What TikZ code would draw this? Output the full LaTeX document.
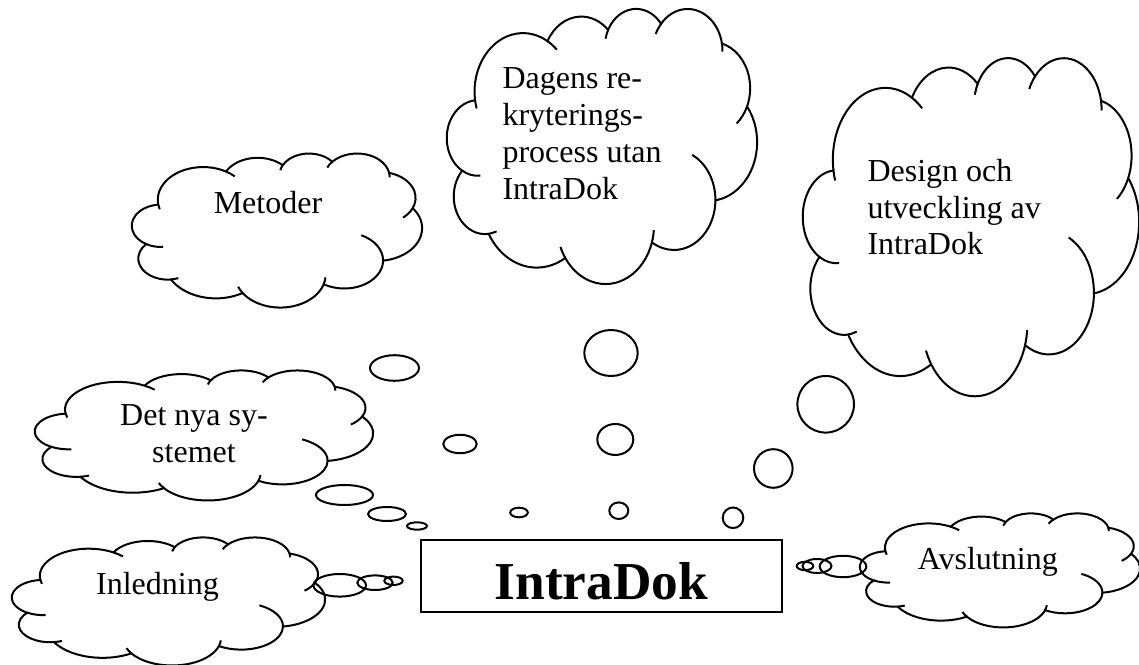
\documentclass[tikz,border=0pt]{standalone}
\usepackage{fontspec}
\setmainfont{Liberation Serif}
\usepackage{tikz}
\tikzset{
  ln/.style={line width=0.75pt, black},
  txt/.style={font=\fontsize{12}{13.8}\selectfont, inner sep=0pt},
  ttl/.style={ln, draw, font=\fontsize{20}{24}\selectfont\bfseries, minimum width=135.4pt, minimum height=27pt, text height=18pt, text depth=0pt, inner sep=0pt},
  % cloud outline in a 100 x 100 box, y down
  pics/wcloud/.style 2 args={code={
    \begin{scope}[xscale={#1/100}, yscale={#2/100}]
      \draw[ln] (9.03,33.27)
        arc[start angle=172.25, end angle=300.36, x radius=15.63, y radius=21.27]
        arc[start angle=-152.02, end angle=-45.45, x radius=12.35, y radius=16.82]
        arc[start angle=-153.49, end angle=-37.32, x radius=10.10, y radius=13.76]
        arc[start angle=-139.71, end angle=-10.22, x radius=11.24, y radius=15.27]
        arc[start angle=-74.77, end angle=23.22, x radius=12.35, y radius=16.84]
        arc[start angle=-37.53, end angle=81.86, x radius=15.68, y radius=21.34]
        arc[start angle=0.46, end angle=121.98, x radius=13.39, y radius=18.21]
        arc[start angle=16.84, end angle=146.23, x radius=15.63, y radius=21.33]
        arc[start angle=58.98, end angle=150.19, x radius=17.87, y radius=24.41]
        arc[start angle=83.31, end angle=223.11, x radius=10.09, y radius=13.70]
        arc[start angle=120.36, end angle=264.11, x radius=10.06, y radius=13.76]
        -- cycle;
      % creases
      \draw[ln]
        ([shift={(85.54:10.06 and 13.76)}]9.97,47.27) arc[start angle=85.54, end angle=120.36, x radius=10.06, y radius=13.76]
        ([shift={(68.23:10.09 and 13.70)}]12.25,68.50) arc[start angle=68.23, end angle=83.31, x radius=10.09, y radius=13.70]
        ([shift={(146.23:15.63 and 21.33)}]51.14,79.04) arc[start angle=146.23, end angle=158.47, x radius=15.63, y radius=21.33]
        ([shift={(4.73:15.63 and 21.33)}]51.14,79.04) arc[start angle=4.73, end angle=16.84, x radius=15.63, y radius=21.33]
        ([shift={(-64.02:13.39 and 18.21)}]73.19,69.77) arc[start angle=-64.02, end angle=0.46, x radius=13.39, y radius=18.21]
        ([shift={(23.22:12.35 and 16.84)}]85.45,29.15) arc[start angle=23.22, end angle=49.63, x radius=12.35, y radius=16.84]
        ([shift={(-10.22:11.24 and 15.27)}]77.63,15.61) arc[start angle=-10.22, end angle=0.82, x radius=11.24, y radius=15.27]
        ([shift={(-156.29:11.24 and 15.27)}]77.63,15.61) arc[start angle=-156.29, end angle=-139.71, x radius=11.24, y radius=15.27]
        ([shift={(-167.72:10.10 and 13.76)}]61.02,14.08) arc[start angle=-167.72, end angle=-153.49, x radius=10.10, y radius=13.76]
        ([shift={(-59.64:15.63 and 21.27)}]24.52,30.40) arc[start angle=-59.64, end angle=-45.74, x radius=15.63, y radius=21.27]
        ([shift={(163.19:15.63 and 21.27)}]24.52,30.40) arc[start angle=163.19, end angle=172.25, x radius=15.63, y radius=21.27];
    \end{scope}
  }},
}
\begin{document}
\begin{tikzpicture}[x=0.375pt, y=-0.375pt]
  \useasboundingbox (0,0) rectangle (1139,665);
  % clouds
  \pic at (132,153) {wcloud={290}{154}};
  \pic at (447,8) {wcloud={310}{275}};
  \pic at (803,57) {wcloud={336}{338}};
  \pic at (35,370) {wcloud={338}{130}};
  \pic at (12,537) {wcloud={313}{128}};
  \pic at (860,513) {wcloud={280}{114}};
  % bubbles
  \draw[ln] (339.7,585.3) ellipse[x radius=26.3, y radius=11.3];
  \draw[ln] (375,582.7) ellipse[x radius=17.7, y radius=7.3];
  \draw[ln] (393.5,580.8) ellipse[x radius=9.2, y radius=4.2];
  \draw[ln] (394.5,368) ellipse[x radius=24.5, y radius=12.8];
  \draw[ln] (460,444) ellipse[x radius=16.7, y radius=9.2];
  \draw[ln] (519,512.5) ellipse[x radius=8.8, y radius=4.8];
  \draw[ln] (344.5,495) ellipse[x radius=28.5, y radius=10];
  \draw[ln] (387,514) ellipse[x radius=19, y radius=7];
  \draw[ln] (417,526) ellipse[x radius=10, y radius=3.7];
  \draw[ln] (611,353) ellipse[x radius=26.7, y radius=23];
  \draw[ln] (615.3,439.5) ellipse[x radius=18, y radius=15.5];
  \draw[ln] (618.8,510.7) ellipse[x radius=9.5, y radius=8.3];
  \draw[ln] (825.7,404.3) ellipse[x radius=28.3, y radius=28.3];
  \draw[ln] (773.3,468.5) ellipse[x radius=19.3, y radius=19.3];
  \draw[ln] (733,517.8) ellipse[x radius=10.3, y radius=10.3];
  \draw[ln] (843,566.5) ellipse[x radius=23.3, y radius=10.7];
  \draw[ln] (817,566) ellipse[x radius=14.5, y radius=7];
  \draw[ln] (805,566) ellipse[x radius=8.3, y radius=4.2];
  % texts
  \node[ttl] (intra) at (601.5,576) {IntraDok};
  \node[txt, anchor=base] (metoder) at (268,214) {Metoder};
  \node[txt, anchor=base west, align=left] (dagens) at (502,199.3) {Dagens re-\\kryterings-\\process utan\\IntraDok};
  \node[txt, anchor=base west, align=left] (design) at (867,255) {Design och\\utveckling av\\IntraDok};
  \node[txt, anchor=base, align=center] (nya) at (194,462.7) {Det nya sy-\\stemet};
  \node[txt, anchor=base] (inledning) at (157.5,594.3) {Inledning};
  \node[txt, anchor=base] (avslutning) at (987.8,569.3) {Avslutning};
\end{tikzpicture}
\end{document}
